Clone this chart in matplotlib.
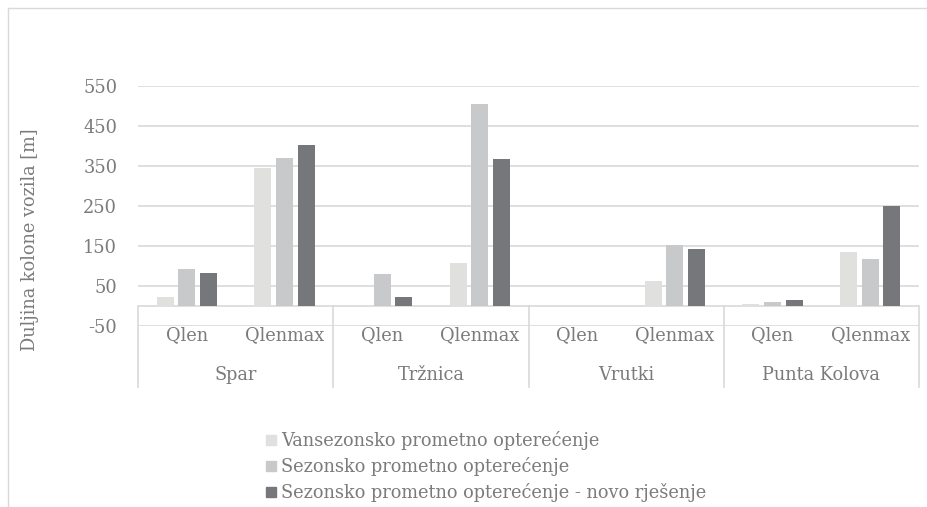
import numpy as np
import matplotlib.pyplot as plt
from matplotlib.patches import Rectangle
from matplotlib.lines import Line2D
import matplotlib.transforms as mtransforms

# data
groups = ["Spar", "Tržnica", "Vrutki", "Punta Kolova"]
subcats = ["Qlen", "Qlenmax"]
series_names = [
    "Vansezonsko prometno opterećenje",
    "Sezonsko prometno opterećenje",
    "Sezonsko prometno opterećenje - novo rješenje",
]
vansezona = [23, 346, 0, 108, 0, 63, 4, 134]
sezona = [92, 369, 79, 505, 0, 152, 10, 117]
novo = [82, 402, 22, 367, 0, 142, 15, 250]
yticks = [-50, 50, 150, 250, 350, 450, 550]

colors = ["#e0e0df", "#c8c9cb", "#76777b"]
text_c = "#7b7b7b"
grid_c = "#d9d9d9"
font = "DejaVu Serif"
fs = 12.8

W, H = 927, 507
fig = plt.figure(figsize=(W / 100, H / 100), dpi=100)

def fx(px):
    return px / W

def fy(py):
    return 1 - py / H

# chart border (cropped at right and bottom)
fig.add_artist(Line2D([fx(8), fx(8)], [fy(8), 0], color=grid_c, lw=1))
fig.add_artist(Line2D([fx(8), 1], [fy(8), fy(8)], color=grid_c, lw=1))

left, right, top, bottom = 138, 919, 86, 326
ax = fig.add_axes([fx(left), fy(bottom), fx(right - left), (bottom - top) / H])

x = np.arange(len(vansezona))
step = 0.222
width = 0.174
for i, vals in enumerate([vansezona, sezona, novo]):
    ax.bar(x + (i - 1) * step, vals, width, color=colors[i], label=series_names[i], zorder=3)

ax.set_xlim(-0.5, len(x) - 0.5)
ax.set_ylim(-50, 550)
ax.set_yticks(yticks)
ax.set_yticklabels([str(v) for v in yticks], fontsize=fs, color=text_c, family=font)
ax.tick_params(axis="y", length=0, pad=15)
ax.set_xticks([])
for s in ax.spines.values():
    s.set_visible(False)
ax.grid(axis="y", color=grid_c, lw=1.2, zorder=0)
ax.axhline(0, color=grid_c, lw=1.2, zorder=2)

# multi-level category axis
trans = mtransforms.blended_transform_factory(ax.transData, ax.transAxes)
y0 = 50 / 600
ybot = (bottom - 387) / (bottom - top)
for g in range(len(groups) + 1):
    ax.plot([g * 2 - 0.5] * 2, [y0, ybot], transform=trans, color=grid_c, lw=1.2, clip_on=False)
for i in x:
    ax.text(i, (bottom - 335) / (bottom - top), subcats[i % 2], transform=trans,
            ha="center", va="center", fontsize=fs, color=text_c, family=font)
for g, name in enumerate(groups):
    ax.text(g * 2 + 0.5, (bottom - 375) / (bottom - top), name, transform=trans,
            ha="center", va="center", fontsize=fs, color=text_c, family=font)

fig.text(fx(30), fy(240), "Duljina kolone vozila [m]", rotation=90, ha="center", va="center",
         fontsize=fs, color=text_c, family=font)

# legend
for i, name in enumerate(series_names):
    yc = 440 + i * 26
    fig.add_artist(Rectangle((fx(266), fy(yc + 5)), fx(10), 10 / H, color=colors[i]))
    fig.text(fx(281), fy(yc), name, ha="left", va="center", fontsize=fs, color=text_c, family=font)

fig.savefig("out.png", dpi=100)
